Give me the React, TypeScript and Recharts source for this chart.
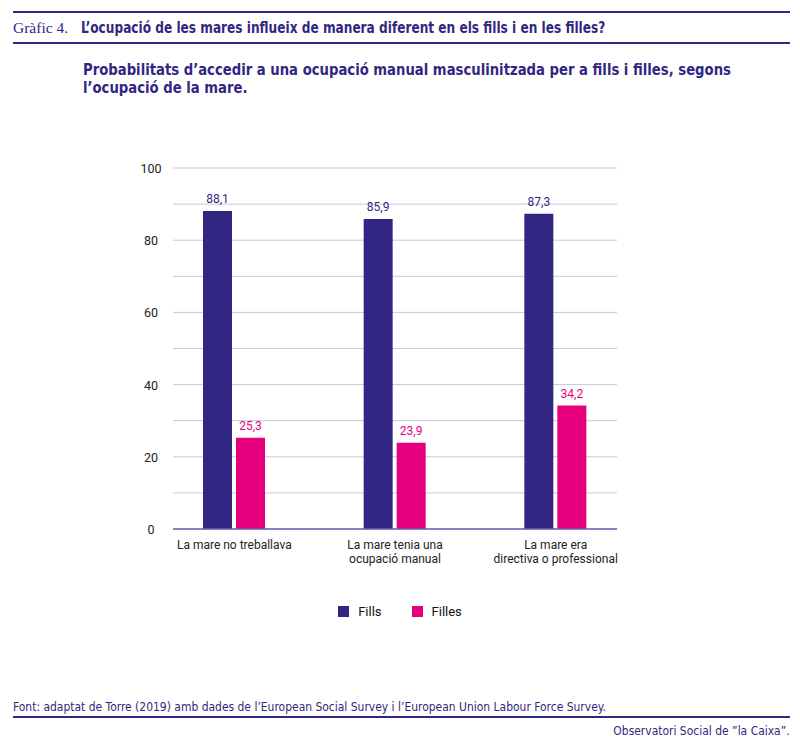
import React from 'react';
import { Bar, BarChart, CartesianGrid, LabelList, Legend, XAxis, YAxis } from 'recharts';

// categories as label lines
const categories = [
  ['La mare no treballava'],
  ['La mare tenia una', 'ocupació manual'],
  ['La mare era', 'directiva o professional'],
];
const fills = [88.1, 85.9, 87.3];
const filles = [25.3, 23.9, 34.2];
const yTicks = [0, 10, 20, 30, 40, 50, 60, 70, 80, 90, 100];
const yLabelled = [0, 20, 40, 60, 80, 100];

const PURPLE = '#312782';
const MAGENTA = '#e6007e';
const NARROW = '"Liberation Sans Narrow", "DejaVu Sans Condensed", sans-serif';
const SANS = 'Roboto, "Noto Sans", sans-serif';

const data = categories.map((lines, i) => ({
  key: lines.join(' '),
  lines,
  fills: fills[i],
  filles: filles[i],
}));

const fmt = (v: number) => v.toFixed(1).replace('.', ',');

function XTick({ x, y, payload, index }: any) {
  const lines = categories[index] ?? [String(payload.value)];
  return (
    <text x={x} y={y + 12} textAnchor="middle" fontSize={12} fontFamily={SANS} fill="#222">
      {lines.map((l, i) => (
        <tspan key={i} x={x} dy={i === 0 ? 0 : 14}>
          {l}
        </tspan>
      ))}
    </text>
  );
}

function YTick({ x, y, payload }: any) {
  if (!yLabelled.includes(payload.value)) return null;
  return (
    <text x={x - 22} y={y + 5} textAnchor="middle" fontSize={12.5} fontFamily={SANS} fill="#222">
      {payload.value}
    </text>
  );
}

function LegendContent() {
  const items = [
    { name: 'Fills', color: PURPLE, dy: 0 },
    { name: 'Filles', color: MAGENTA, dy: 1 },
  ];
  return (
    <div style={{ display: 'flex', justifyContent: 'center', height: 20, fontFamily: SANS, fontSize: 13, color: '#111' }}>
      {items.map((it, i) => (
        <div key={it.name} style={{ display: 'flex', alignItems: 'center', marginLeft: i ? 30 : 0, marginTop: it.dy }}>
          <span style={{ width: 11, height: 11, background: it.color, display: 'inline-block', marginRight: 9 }} />
          {it.name}
        </div>
      ))}
    </div>
  );
}

const squeeze = (origin: string, s: number): React.CSSProperties => ({
  transform: `scaleX(${s})`,
  transformOrigin: origin,
  whiteSpace: 'nowrap',
});

export default function App() {
  return (
    <div style={{ position: 'absolute', left: 0, top: 0, width: 800, height: 744, background: '#fff', color: PURPLE }}>
      <div style={{ position: 'absolute', left: 13, top: 11, width: 777, borderTop: `2px solid ${PURPLE}` }} />
      <div style={{ position: 'absolute', left: 13, top: 19, fontFamily: '"Liberation Serif", "DejaVu Serif", serif', fontSize: 15.5 }}>
        Gràfic 4.
      </div>
      <div style={{ position: 'absolute', left: 81, top: 19, fontFamily: NARROW, fontWeight: 700, fontSize: 15, ...squeeze('left', 0.9) }}>
        L’ocupació de les mares influeix de manera diferent en els fills i en les filles?
      </div>
      <div style={{ position: 'absolute', left: 13, top: 42, width: 777, borderTop: `2px solid ${PURPLE}` }} />
      <div style={{ position: 'absolute', left: 83, top: 61, fontFamily: NARROW, fontWeight: 700, fontSize: 16.5, lineHeight: '18px', ...squeeze('left', 0.89) }}>
        Probabilitats d’accedir a una ocupació manual masculinitzada per a fills i filles, segons
        <br />
        l’ocupació de la mare.
      </div>

      <div style={{ position: 'absolute', left: 0, top: 0 }}>
        <BarChart
          width={800}
          height={744}
          data={data}
          margin={{ top: 168, right: 183, bottom: 155, left: 133 }}
          barSize={29}
          barGap={4}
        >
          <CartesianGrid vertical={false} stroke="#c9c5e3" />
          <XAxis
            dataKey="key"
            tick={<XTick />}
            tickLine={false}
            axisLine={{ stroke: '#6b62ad', strokeWidth: 1.5 }}
            height={40}
            interval={0}
            padding={{ left: -19, right: -19 }}
          />
          <YAxis
            domain={[0, 100]}
            ticks={yTicks}
            tick={<YTick />}
            tickLine={false}
            axisLine={false}
            tickSize={0}
            tickMargin={0}
            width={40}
          />
          <Legend
            verticalAlign="bottom"
            content={<LegendContent />}
            wrapperStyle={{ top: 601, bottom: 'auto', left: 0, width: 800 }}
          />
          <Bar dataKey="fills" name="Fills" fill={PURPLE} isAnimationActive={false}>
            <LabelList dataKey="fills" position="top" offset={8} formatter={fmt} fill={PURPLE} fontSize={12} fontFamily={SANS} />
          </Bar>
          <Bar dataKey="filles" name="Filles" fill={MAGENTA} isAnimationActive={false}>
            <LabelList dataKey="filles" position="top" offset={8} formatter={fmt} fill={MAGENTA} fontSize={12} fontFamily={SANS} />
          </Bar>
        </BarChart>
      </div>

      <div style={{ position: 'absolute', left: 13, top: 699, fontFamily: NARROW, fontSize: 13, ...squeeze('left', 0.92) }}>
        Font: adaptat de Torre (2019) amb dades de l’European Social Survey i l’European Union Labour Force Survey.
      </div>
      <div style={{ position: 'absolute', left: 13, top: 716, width: 777, borderTop: `2px solid ${PURPLE}` }} />
      <div style={{ position: 'absolute', right: 10, top: 723, fontFamily: NARROW, fontSize: 13, ...squeeze('right', 0.92) }}>
        Observatori Social de ”la Caixa”.
      </div>
    </div>
  );
}
